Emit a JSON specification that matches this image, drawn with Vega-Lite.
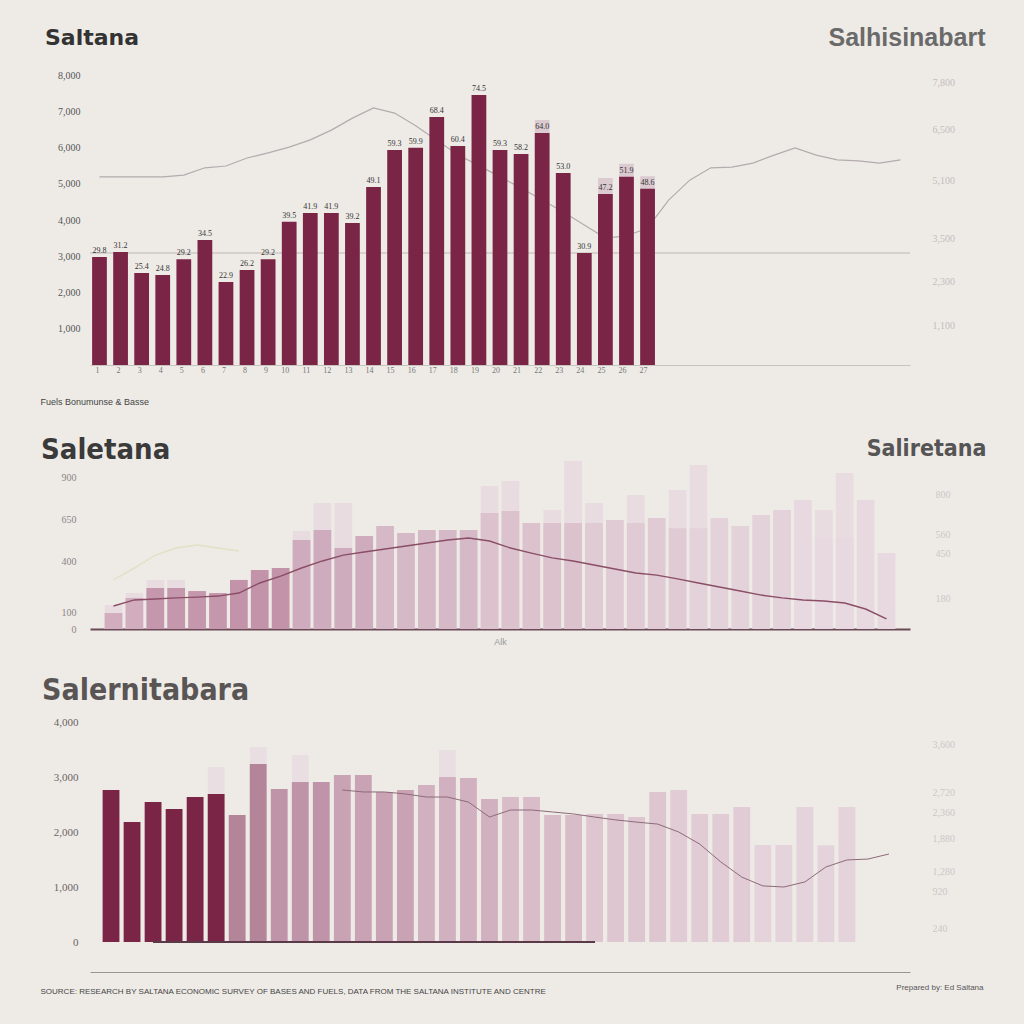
{
  "$schema": "https://vega.github.io/schema/vega-lite/v6.json",
  "background": "#eeebe7",
  "padding": {"left": 40, "top": 25, "right": 40, "bottom": 30},
  "spacing": 30,
  "resolve": {"scale": {"color": "independent"}},
  "config": {
    "view": {"stroke": null},
    "font": "Liberation Sans",
    "axis": {"labelFont": "Liberation Serif", "titleFont": "Liberation Sans"}
  },
  "datasets": {
    "p1": [
      {"k": 1, "v": 29.8, "l": 51.9},
      {"k": 2, "v": 31.2, "l": 51.9},
      {"k": 3, "v": 25.4, "l": 51.9},
      {"k": 4, "v": 24.8, "l": 51.9},
      {"k": 5, "v": 29.2, "l": 52.4},
      {"k": 6, "v": 34.5, "l": 54.4},
      {"k": 7, "v": 22.9, "l": 54.9},
      {"k": 8, "v": 26.2, "l": 57.1},
      {"k": 9, "v": 29.2, "l": 58.5},
      {"k": 10, "v": 39.5, "l": 60.1},
      {"k": 11, "v": 41.9, "l": 62.1},
      {"k": 12, "v": 41.9, "l": 64.8},
      {"k": 13, "v": 39.2, "l": 68.1},
      {"k": 14, "v": 49.1, "l": 70.9},
      {"k": 15, "v": 59.3, "l": 69.5},
      {"k": 16, "v": 59.9, "l": 66.0},
      {"k": 17, "v": 68.4, "l": 62.0},
      {"k": 18, "v": 60.4, "l": 58.0},
      {"k": 19, "v": 74.5, "l": 55.0},
      {"k": 20, "v": 59.3, "l": 51.9},
      {"k": 21, "v": 58.2, "l": 48.8},
      {"k": 22, "v": 64.0, "c": 67.6, "l": 45.5},
      {"k": 23, "v": 53.0, "l": 42.2},
      {"k": 24, "v": 30.9, "l": 38.6},
      {"k": 25, "v": 47.2, "c": 51.6, "l": 35.0},
      {"k": 26, "v": 51.9, "c": 55.5, "l": 35.6},
      {"k": 27, "v": 48.6, "c": 52.1, "l": 37.8},
      {"k": 28, "l": 45.5},
      {"k": 29, "l": 51.0},
      {"k": 30, "l": 54.4},
      {"k": 31, "l": 54.6},
      {"k": 32, "l": 55.7},
      {"k": 33, "l": 57.9},
      {"k": 34, "l": 59.9},
      {"k": 35, "l": 57.9},
      {"k": 36, "l": 56.6},
      {"k": 37, "l": 56.3},
      {"k": 38, "l": 55.7},
      {"k": 39, "l": 56.6}
    ],
    "p2": [
      {"k": 1, "v": 9.5, "g": 14.3, "l": 13.7, "gr": 29.2},
      {"k": 2, "v": 18.5, "g": 21.4, "l": 17.3, "gr": 36.3},
      {"k": 3, "v": 24.4, "g": 29.2, "l": 17.9, "gr": 44.0},
      {"k": 4, "v": 24.4, "g": 29.2, "l": 18.5, "gr": 48.2},
      {"k": 5, "v": 22.6, "l": 19.0, "gr": 50.0},
      {"k": 6, "v": 21.4, "l": 19.6, "gr": 48.2},
      {"k": 7, "v": 29.2, "l": 21.4, "gr": 46.4},
      {"k": 8, "v": 35.1, "l": 27.4},
      {"k": 9, "v": 36.3, "l": 31.5},
      {"k": 10, "v": 53.0, "g": 58.3, "l": 36.3},
      {"k": 11, "v": 58.9, "g": 75.0, "l": 40.5},
      {"k": 12, "v": 48.2, "g": 75.0, "l": 44.0},
      {"k": 13, "v": 55.4, "l": 45.8},
      {"k": 14, "v": 61.3, "l": 47.6},
      {"k": 15, "v": 57.1, "l": 49.4},
      {"k": 16, "v": 58.9, "l": 51.2},
      {"k": 17, "v": 58.9, "l": 53.0},
      {"k": 18, "v": 58.9, "l": 54.2},
      {"k": 19, "v": 69.0, "g": 85.1, "l": 52.4},
      {"k": 20, "v": 70.2, "g": 88.1, "l": 48.2},
      {"k": 21, "v": 63.1, "l": 45.2},
      {"k": 22, "v": 63.1, "g": 70.8, "l": 42.3},
      {"k": 23, "v": 63.1, "g": 100.0, "l": 40.5},
      {"k": 24, "v": 63.1, "g": 75.0, "l": 38.1},
      {"k": 25, "v": 64.9, "l": 35.7},
      {"k": 26, "v": 63.1, "g": 79.8, "l": 33.3},
      {"k": 27, "v": 66.1, "l": 32.1},
      {"k": 28, "v": 60.0, "g": 82.7, "l": 29.8},
      {"k": 29, "v": 60.0, "g": 97.6, "l": 27.4},
      {"k": 30, "v": 66.1, "l": 25.0},
      {"k": 31, "v": 61.3, "l": 22.6},
      {"k": 32, "v": 67.9, "l": 20.2},
      {"k": 33, "v": 70.8, "l": 18.5},
      {"k": 34, "v": 76.8, "l": 17.3},
      {"k": 35, "v": 54.2, "g": 70.8, "l": 16.7},
      {"k": 36, "v": 54.2, "g": 92.9, "l": 15.5},
      {"k": 37, "v": 76.8, "l": 11.9},
      {"k": 38, "v": 45.2, "l": 6.0}
    ],
    "p3": [
      {"k": 1, "v": 69.1},
      {"k": 2, "v": 54.5},
      {"k": 3, "v": 63.6},
      {"k": 4, "v": 60.5},
      {"k": 5, "v": 65.9},
      {"k": 6, "v": 67.3, "g": 79.5},
      {"k": 7, "v": 57.7},
      {"k": 8, "v": 80.9, "g": 88.6},
      {"k": 9, "v": 69.5},
      {"k": 10, "v": 72.7, "g": 85.0},
      {"k": 11, "v": 72.7},
      {"k": 12, "v": 75.9, "l": 69.1},
      {"k": 13, "v": 75.9, "l": 68.2},
      {"k": 14, "v": 68.2, "l": 68.2},
      {"k": 15, "v": 69.1, "l": 67.3},
      {"k": 16, "v": 71.4, "l": 65.9},
      {"k": 17, "v": 75.0, "g": 87.3, "l": 65.9},
      {"k": 18, "v": 74.5, "l": 63.6},
      {"k": 19, "v": 65.0, "l": 56.8},
      {"k": 20, "v": 65.9, "l": 60.0},
      {"k": 21, "v": 65.9, "l": 60.0},
      {"k": 22, "v": 57.7, "l": 59.1},
      {"k": 23, "v": 57.7, "l": 58.2},
      {"k": 24, "v": 58.2, "l": 56.8},
      {"k": 25, "v": 58.2, "l": 55.5},
      {"k": 26, "v": 56.8, "l": 54.5},
      {"k": 27, "v": 68.2, "l": 53.6},
      {"k": 28, "v": 69.1, "l": 50.0},
      {"k": 29, "v": 58.2, "l": 44.5},
      {"k": 30, "v": 58.2, "l": 36.4},
      {"k": 31, "v": 61.4, "l": 29.5},
      {"k": 32, "v": 44.1, "l": 25.5},
      {"k": 33, "v": 44.1, "l": 25.0},
      {"k": 34, "v": 61.4, "l": 27.3},
      {"k": 35, "v": 44.0, "l": 34.1},
      {"k": 36, "v": 61.4, "l": 37.3},
      {"k": 37, "l": 37.7},
      {"k": 38, "l": 40.0}
    ]
  },
  "vconcat": [
    {
      "width": 820,
      "height": 290,
      "data": {"name": "p1"},
      "title": {"text": "Saltana", "anchor": "start", "fontSize": 22, "font": "DejaVu Sans", "fontWeight": "bold", "color": "#333333", "offset": -25, "dx": 5},
      "resolve": {"scale": {"y": "independent"}},
      "layer": [
        {
          "mark": {"type": "rule", "color": "#d6d0cd", "strokeWidth": 1},
          "encoding": {"y": {"datum": 31, "type": "quantitative", "scale": {"domain": [0, 80]}, "axis": null}}
        },
        {
          "mark": {"type": "line", "color": "#b3abad", "strokeWidth": 1.2},
          "encoding": {
            "x": {"field": "k", "type": "ordinal", "scale": {"paddingInner": 0.3, "paddingOuter": 0.1}, "title": "Fuels Bonumunse & Basse"},
            "y": {"field": "l", "type": "quantitative", "scale": {"domain": [0, 80]},
              "axis": {"orient": "right", "values": [11, 23, 35, 51, 65, 78], "labelExpr": "format(datum.value * 100, ',')", "domain": false, "ticks": false, "grid": false, "labelFontSize": 10, "labelColor": "#c4bcbc", "labelPadding": 22,
                "title": "Salhisinabart", "titleAngle": 0, "titleAlign": "right", "titleBaseline": "middle", "titleX": 75, "titleY": -38, "titleFontSize": 25, "titleFontWeight": "bold", "titleColor": "#6a6a6a"}}
          }
        },
        {
          "mark": {"type": "bar", "color": "#dccad1"},
          "encoding": {
            "x": {"field": "k", "type": "ordinal", "scale": {"paddingInner": 0.3, "paddingOuter": 0.1}, "title": "Fuels Bonumunse & Basse"},
            "y": {"field": "c", "type": "quantitative", "scale": {"domain": [0, 80]}, "axis": null}
          }
        },
        {
          "mark": {"type": "bar", "color": "#7a2546"},
          "encoding": {
            "x": {"field": "k", "type": "ordinal", "scale": {"paddingInner": 0.3, "paddingOuter": 0.1}, "title": "Fuels Bonumunse & Basse",
              "axis": {"labelAngle": 0, "labelFontSize": 8, "labelColor": "#777777", "labelPadding": 5, "ticks": false, "domainColor": "#c9c3c0",
                "labelExpr": "datum.value <= 27 ? datum.label : ''",
                "titleAnchor": "start", "titleAlign": "left", "titleX": -50, "titleY": 32, "titleFontSize": 9, "titleFontWeight": "normal", "titleColor": "#444444"}},
            "y": {"field": "v", "type": "quantitative", "scale": {"domain": [0, 80]},
              "axis": {"values": [10, 20, 30, 40, 50, 60, 70, 80], "labelExpr": "format(datum.value * 100, ',')", "domain": false, "ticks": false, "grid": false, "labelFontSize": 10, "labelColor": "#555555", "labelPadding": 10, "title": null}}
          }
        },
        {
          "mark": {"type": "text", "dy": -6, "fontSize": 8, "fill": "#333333", "font": "Liberation Serif"},
          "encoding": {
            "x": {"field": "k", "type": "ordinal", "scale": {"paddingInner": 0.3, "paddingOuter": 0.1}, "title": "Fuels Bonumunse & Basse"},
            "y": {"field": "v", "type": "quantitative", "scale": {"domain": [0, 80]}, "axis": null},
            "text": {"field": "v", "type": "quantitative", "format": ".1f"}
          }
        }
      ]
    },
    {
      "width": 820,
      "height": 168,
      "data": {"name": "p2"},
      "title": {"text": "Saletana", "anchor": "start", "fontSize": 29, "font": "'DejaVu Sans Condensed', 'Liberation Sans', sans-serif", "fontWeight": "bold", "color": "#3a3a3a", "offset": -28, "dx": -20},
      "resolve": {"scale": {"y": "independent"}},
      "layer": [
        {
          "mark": {"type": "bar", "color": "#e8dce1"},
          "encoding": {
            "x": {"field": "k", "type": "ordinal", "scale": {"paddingInner": 0.15, "paddingOuter": 0.7}, "title": "Alk"},
            "y": {"field": "g", "type": "quantitative", "scale": {"domain": [0, 100]}, "axis": null}
          }
        },
        {
          "mark": {"type": "bar"},
          "encoding": {
            "x": {"field": "k", "type": "ordinal", "scale": {"paddingInner": 0.15, "paddingOuter": 0.7}, "title": "Alk",
              "axis": {"labels": false, "ticks": false, "domainColor": "#6a4a58", "domainWidth": 2, "titleFontSize": 9, "titleFontWeight": "normal", "titleColor": "#999999", "titlePadding": 8}},
            "y": {"field": "v", "type": "quantitative", "scale": {"domain": [0, 100]},
              "axis": {"values": [0, 10, 40, 65, 90], "labelExpr": "format(datum.value * 10, ',')", "domain": false, "ticks": false, "grid": false, "labelFontSize": 10, "labelColor": "#8a8585", "labelPadding": 14, "title": null}},
            "color": {"field": "k", "type": "quantitative", "legend": null,
              "scale": {"type": "threshold", "domain": [3, 7, 10, 14, 19, 24, 29, 34], "range": ["#d2adbe", "#c597ac", "#c293a9", "#cfacbd", "#d6b9c6", "#dbc2cd", "#e0cad4", "#e4d2da", "#e8d9e0"]}}
          }
        },
        {
          "mark": {"type": "line", "color": "#dfe2c4", "strokeWidth": 1.5},
          "encoding": {
            "x": {"field": "k", "type": "ordinal", "scale": {"paddingInner": 0.15, "paddingOuter": 0.7}, "title": "Alk"},
            "y": {"field": "gr", "type": "quantitative", "scale": {"domain": [0, 100]}, "axis": null}
          }
        },
        {
          "mark": {"type": "line", "color": "#8a4e66", "strokeWidth": 1.4},
          "encoding": {
            "x": {"field": "k", "type": "ordinal", "scale": {"paddingInner": 0.15, "paddingOuter": 0.7}, "title": "Alk"},
            "y": {"field": "l", "type": "quantitative", "scale": {"domain": [0, 100]},
              "axis": {"orient": "right", "values": [18, 45, 56, 80], "labelExpr": "format(datum.value * 10, ',')", "domain": false, "ticks": false, "grid": false, "labelFontSize": 10, "labelColor": "#cdc6c6", "labelPadding": 25,
                "title": "Saliretana", "titleAngle": 0, "titleAlign": "right", "titleBaseline": "middle", "titleX": 76, "titleY": -13, "titleFontSize": 23, "titleFont": "'DejaVu Sans Condensed', 'Liberation Sans', sans-serif", "titleFontWeight": "bold", "titleColor": "#555555"}}
          }
        }
      ]
    },
    {
      "width": 820,
      "height": 220,
      "data": {"name": "p3"},
      "title": {"text": "Salernitabara", "anchor": "start", "fontSize": 30, "font": "'DejaVu Sans Condensed', 'Liberation Sans', sans-serif", "fontWeight": "bold", "color": "#5a5555", "offset": 10, "dx": 2},
      "resolve": {"scale": {"y": "independent"}},
      "layer": [
        {
          "mark": {"type": "bar", "color": "#e9dfe3"},
          "encoding": {
            "x": {"field": "k", "type": "ordinal", "scale": {"paddingInner": 0.2, "paddingOuter": 0.6}, "title": "SOURCE: RESEARCH BY SALTANA ECONOMIC SURVEY OF BASES AND FUELS, DATA FROM THE SALTANA INSTITUTE AND CENTRE"},
            "y": {"field": "g", "type": "quantitative", "scale": {"domain": [0, 100]}, "axis": null}
          }
        },
        {
          "mark": {"type": "bar"},
          "encoding": {
            "x": {"field": "k", "type": "ordinal", "scale": {"paddingInner": 0.2, "paddingOuter": 0.6}, "title": "SOURCE: RESEARCH BY SALTANA ECONOMIC SURVEY OF BASES AND FUELS, DATA FROM THE SALTANA INSTITUTE AND CENTRE",
              "axis": {"labels": false, "ticks": false, "offset": 30, "domainColor": "#9a9595", "domainWidth": 1.2,
                "titleAnchor": "start", "titleAlign": "left", "titleX": -50, "titleY": 15, "titleFontSize": 8, "titleFontWeight": "normal", "titleColor": "#444444"}},
            "y": {"field": "v", "type": "quantitative", "scale": {"domain": [0, 100]},
              "axis": {"values": [0, 25, 50, 75, 100], "labelExpr": "format(datum.value * 40, ',')", "domain": false, "ticks": false, "grid": false, "labelFontSize": 11, "labelColor": "#6a6464", "labelPadding": 12, "title": null}},
            "color": {"field": "k", "type": "quantitative", "legend": null,
              "scale": {"type": "threshold", "domain": [7, 9, 12, 16, 20, 24, 28, 32], "range": ["#7a2546", "#b48499", "#bf93a8", "#c9a2b4", "#d1b0bf", "#d8bdc9", "#ddc6d0", "#e1ccd6", "#e4d3db"]}}
          }
        },
        {
          "mark": {"type": "rule", "color": "#5a3a48", "strokeWidth": 2},
          "encoding": {
            "x": {"datum": 3, "type": "ordinal", "scale": {"paddingInner": 0.2, "paddingOuter": 0.6}},
            "x2": {"datum": 24},
            "y": {"datum": 0, "type": "quantitative", "scale": {"domain": [0, 100]}, "axis": null}
          }
        },
        {
          "mark": {"type": "line", "color": "#8e6a7a", "strokeWidth": 1},
          "encoding": {
            "x": {"field": "k", "type": "ordinal", "scale": {"paddingInner": 0.2, "paddingOuter": 0.6}, "title": "SOURCE: RESEARCH BY SALTANA ECONOMIC SURVEY OF BASES AND FUELS, DATA FROM THE SALTANA INSTITUTE AND CENTRE"},
            "y": {"field": "l", "type": "quantitative", "scale": {"domain": [0, 100]},
              "axis": {"orient": "right", "values": [6, 23, 32, 47, 59, 68, 90], "labelExpr": "format(datum.value * 40, ',')", "domain": false, "ticks": false, "grid": false, "labelFontSize": 10, "labelColor": "#cdc6c6", "labelPadding": 22,
                "title": "Prepared by: Ed Saltana", "titleAngle": 0, "titleAlign": "right", "titleBaseline": "middle", "titleX": 73, "titleY": 265, "titleFontSize": 8, "titleFontWeight": "normal", "titleColor": "#555555"}}
          }
        }
      ]
    }
  ]
}
